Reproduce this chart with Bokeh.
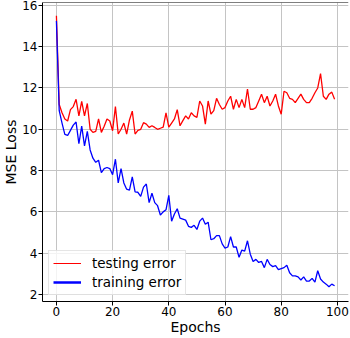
from bokeh.plotting import figure
from bokeh.models import (Range1d, FixedTicker, Legend, LegendItem,
                          ColumnDataSource, Span)
from bokeh.embed import file_html
from bokeh.resources import INLINE

epochs = list(range(100))

testing_error = [
    15.5, 11.2, 10.8, 10.5, 10.4, 10.95, 11.1, 11.45, 10.65, 11.35,
    10.65, 11.25, 10.0, 9.85, 9.9, 10.5, 9.85, 10.15, 10.5, 10.4,
    9.93, 11.1, 9.77, 10.0, 10.3, 9.77, 10.45, 10.88, 9.77, 9.95,
    10.0, 10.32, 10.25, 10.09, 10.17, 10.09, 10.0, 10.05, 10.1, 10.8,
    10.1, 10.3, 10.5, 10.95, 10.17, 10.42, 10.65, 10.5, 10.8, 10.65,
    10.58, 11.37, 11.13, 10.25, 11.37, 10.73, 10.9, 11.5, 11.2, 10.97,
    11.05, 11.37, 11.6, 10.97, 11.45, 11.05, 11.45, 11.05, 11.95, 10.97,
    10.97, 11.05, 11.37, 11.7, 11.29, 11.6, 11.13, 11.37, 11.7, 11.13,
    10.73, 11.84, 11.77, 11.5, 11.45, 11.29, 11.5, 11.7, 11.45, 11.29,
    11.29, 11.5, 11.77, 12.0, 12.7, 11.6, 11.45, 11.7, 11.8, 11.45,
]

training_error = [
    15.25, 10.9, 10.3, 9.75, 9.7, 9.95, 10.2, 10.35, 9.3, 10.15,
    9.2, 9.9, 9.0, 8.6, 8.4, 8.5, 7.9, 8.1, 8.15, 8.1,
    7.8, 8.55, 7.4, 8.1, 7.4, 7.1, 7.05, 7.7, 6.97, 6.95,
    6.75, 7.2, 7.35, 6.45, 6.9, 6.45, 6.3, 5.85, 6.0, 6.1,
    6.8, 5.55, 5.9, 6.15, 5.7, 5.65, 5.6, 5.3, 5.25, 5.35,
    5.15, 5.55, 5.7, 5.4, 5.5, 4.65, 4.7, 4.85, 4.85, 4.45,
    4.25, 4.3, 4.8, 4.3, 4.3, 3.8, 4.15, 4.1, 4.6, 3.95,
    3.6, 3.7, 3.55, 3.6, 3.3, 3.7, 3.45, 3.35, 3.4, 3.2,
    3.25, 3.3, 3.42, 3.05, 2.9, 2.9, 2.85, 2.7, 2.85, 2.65,
    2.65, 2.78, 2.6, 3.15, 2.75, 2.6, 2.5, 2.37, 2.5, 2.42,
]

x_ticks = [0, 20, 40, 60, 80, 100]
y_ticks = [2, 4, 6, 8, 10, 12, 14, 16]
legend_labels = ["testing error", "training error"]
x_label = "Epochs"
y_label = "MSE Loss"

FONT = "DejaVu Sans"
X0, X1 = -4.95, 103.95
Y0, Y1 = 1.66, 16.14

p = figure(
    frame_width=306, frame_height=299,
    x_range=Range1d(X0, X1), y_range=Range1d(Y0, Y1),
    output_backend="svg", toolbar_location=None,
    min_border_left=38, min_border_right=6, min_border_top=2, min_border_bottom=0,
    background_fill_color="white", border_fill_color="white",
)
p.outline_line_color = None
p.add_layout(Span(location=Y1, dimension="width", line_color="black", line_width=1))

src = ColumnDataSource(dict(x=epochs, test=testing_error, train=training_error))
p.line("x", "test", source=src, line_color="red", line_width=1.3)
p.line("x", "train", source=src, line_color="blue", line_width=1.3)

# legend proxies (thin red, thick blue as in the reference legend)
nan = float("nan")
leg_src = ColumnDataSource(dict(x=[nan], y=[nan]))
l_test = p.line("x", "y", source=leg_src, line_color="red", line_width=1)
l_train = p.line("x", "y", source=leg_src, line_color="blue", line_width=2.5)

legend = Legend(
    items=[LegendItem(label=legend_labels[0], renderers=[l_test]),
           LegendItem(label=legend_labels[1], renderers=[l_train])],
    location="bottom_left",
    label_text_font=FONT, label_text_font_size="13.5px", label_text_color="black",
    glyph_width=28, glyph_height=16, label_standoff=11,
    padding=4, spacing=3, margin=6,
    border_line_color="#cccccc", border_line_width=1,
    background_fill_color="white", background_fill_alpha=0.8,
    label_height=16,
)
p.add_layout(legend)

for ax in (p.xaxis[0], p.yaxis[0]):
    ax.major_label_text_font = FONT
    ax.major_label_text_font_size = "12px"
    ax.major_label_text_color = "black"
    ax.axis_label_text_font = FONT
    ax.axis_label_text_font_size = "14px"
    ax.axis_label_text_font_style = "normal"
    ax.axis_label_text_color = "black"
    ax.axis_line_color = "black"
    ax.major_tick_line_color = "black"
    ax.major_tick_out = 4
    ax.major_tick_in = 0
    ax.minor_tick_line_color = None
    ax.major_label_standoff = 1
    ax.axis_label_standoff = 0

p.xaxis[0].ticker = FixedTicker(ticks=x_ticks)
p.yaxis[0].ticker = FixedTicker(ticks=y_ticks)
p.xaxis[0].axis_label = x_label
p.yaxis[0].axis_label = y_label

p.xgrid[0].ticker = FixedTicker(ticks=x_ticks)
p.ygrid[0].ticker = FixedTicker(ticks=y_ticks)
for g in (p.xgrid[0], p.ygrid[0]):
    g.grid_line_color = "#c4c4c4"
    g.grid_line_width = 1

open("out.html", "w").write(file_html(p, INLINE))
